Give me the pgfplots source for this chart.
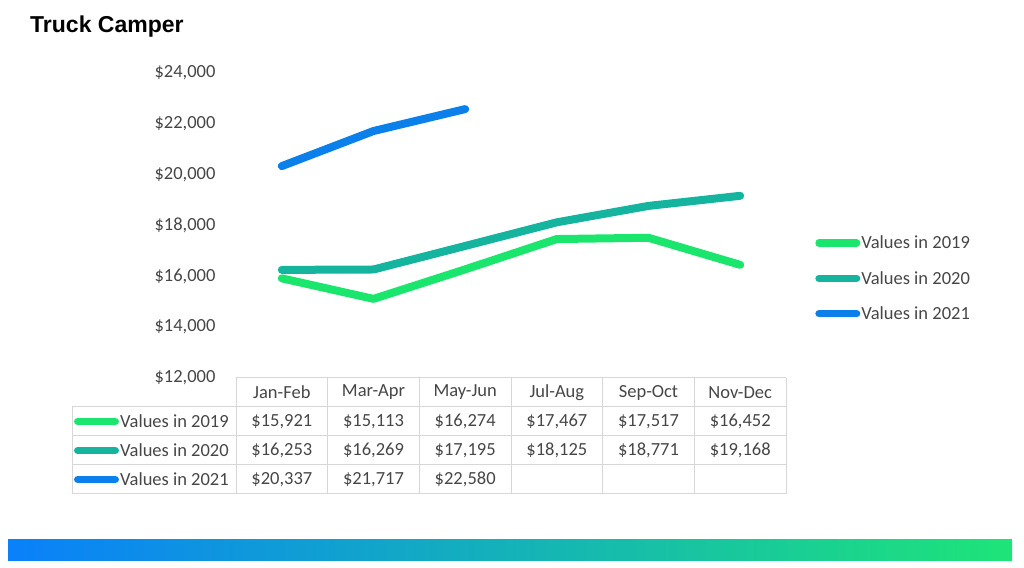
\documentclass[border=0pt]{standalone}
\usepackage{pgfplots}
\pgfplotsset{compat=1.18}
\usepackage{fontspec}
\setmainfont{Carlito}
\newfontfamily\titlefont{Liberation Sans}

\definecolor{c19}{RGB}{26,230,110}
\definecolor{c20}{RGB}{20,180,158}
\definecolor{c21}{RGB}{12,128,234}
\definecolor{txt}{RGB}{70,70,70}
\definecolor{gridc}{RGB}{215,215,215}

\begin{document}
\begin{tikzpicture}
\path[use as bounding box] (0,0) rectangle (1024pt,567pt);
\begin{axis}[
    at={(236pt,189pt)}, anchor=south west,
    scale only axis, width=550pt, height=305pt,
    xmin=-0.5, xmax=5.5,
    ymin=12000, ymax=24000,
    axis x line=none, axis y line=left,
    y axis line style={draw=none},
    ytick={12000,14000,...,24000},
    scaled y ticks=false,
    major tick length=0pt,
    /pgf/number format/fixed,
    /pgf/number format/1000 sep={,},
    /pgf/number format/assume math mode=true,
    yticklabel={\$\pgfmathprintnumber{\tick}},
    yticklabel style={font=\fontsize{18.5}{21}\selectfont, text=txt, xshift=-17pt},
    clip=false,
    legend style={draw=none, fill=none, at={(1.053,0.47)}, anchor=north west,
        font=\fontsize{18.5}{21}\selectfont, text=txt, row sep=19pt,
        inner sep=0pt, nodes={inner sep=1pt}},
    legend cell align=left,
    legend image code/.code={\draw[#1, line width=7.5pt, line cap=round] (3.75pt,0pt) -- (41.25pt,0pt);},
]
\addplot[c19, line width=8pt, line cap=round, line join=round] coordinates {
    (0,15921) (1,15113) (2,16274) (3,17467) (4,17517) (5,16452)
};
\addplot[c20, line width=8pt, line cap=round, line join=round] coordinates {
    (0,16253) (1,16269) (2,17195) (3,18125) (4,18771) (5,19168)
};
\addplot[c21, line width=8pt, line cap=round, line join=round] coordinates {
    (0,20337) (1,21717) (2,22580)
};
\legend{Values in 2019,Values in 2020,Values in 2021}
\end{axis}

\begin{scope}[x=1pt,y=-1pt,yshift=567pt]
% title
\node[anchor=base west, inner sep=0pt, font=\titlefont\bfseries\fontsize{23}{26}\selectfont]
    at (30,33) {Truck Camper};
% table grid
\draw[gridc, line width=1pt] (236,378) -- (786,378);
\foreach \y in {407,436,465,494} \draw[gridc, line width=1pt] (72,\y) -- (786,\y);
\draw[gridc, line width=1pt] (72,407) -- (72,494);
\foreach \x in {236,327.67,419.33,511,602.67,694.33,786}
    \draw[gridc, line width=1pt] (\x,378) -- (\x,494);
% header
\foreach \t [count=\i from 0] in {Jan-Feb,Mar-Apr,May-Jun,Jul-Aug,Sep-Oct,Nov-Dec}
    \node[text=txt, font=\fontsize{18.5}{21}\selectfont] at (281.83+91.67*\i,392.5) {\t};
% rows
\foreach \v [count=\i from 0] in {{\$15,921},{\$15,113},{\$16,274},{\$17,467},{\$17,517},{\$16,452}}
    \node[text=txt, font=\fontsize{18.5}{21}\selectfont] at (281.83+91.67*\i,421.5) {\v};
\foreach \v [count=\i from 0] in {{\$16,253},{\$16,269},{\$17,195},{\$18,125},{\$18,771},{\$19,168}}
    \node[text=txt, font=\fontsize{18.5}{21}\selectfont] at (281.83+91.67*\i,450.5) {\v};
\foreach \v [count=\i from 0] in {{\$20,337},{\$21,717},{\$22,580}}
    \node[text=txt, font=\fontsize{18.5}{21}\selectfont] at (281.83+91.67*\i,479.5) {\v};
% row keys
\foreach \c/\y/\t in {c19/421.5/2019,c20/450.5/2020,c21/479.5/2021} {
    \draw[\c, line width=7.5pt, line cap=round] (77.75,\y) -- (115.25,\y);
    \node[anchor=west, inner sep=0pt, text=txt, font=\fontsize{18.5}{21}\selectfont] at (120,\y) {Values in \t};
}
% gradient bar
\shade[left color={rgb,255:red,10;green,128;blue,250},
       middle color={rgb,255:red,18;green,178;blue,182},
       right color={rgb,255:red,30;green,228;blue,120}]
    (8,539) rectangle (1012,560);
\end{scope}
\end{tikzpicture}
\end{document}
